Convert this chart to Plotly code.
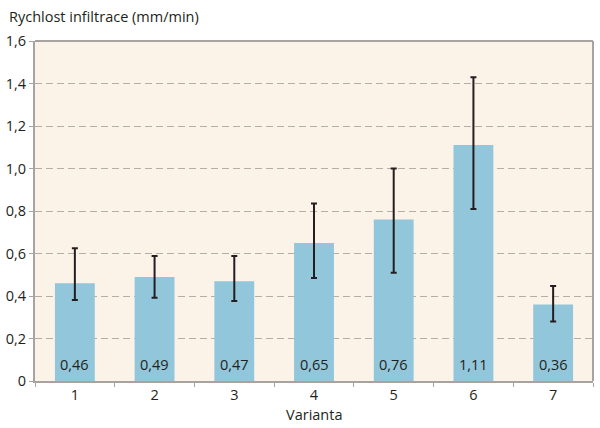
import plotly.graph_objects as go

categories = ["1", "2", "3", "4", "5", "6", "7"]
values = [0.46, 0.49, 0.47, 0.65, 0.76, 1.11, 0.36]
err_upper = [0.625, 0.588, 0.588, 0.835, 1.0, 1.43, 0.447]
err_lower = [0.381, 0.392, 0.377, 0.485, 0.51, 0.809, 0.28]
labels = ["0,46", "0,49", "0,47", "0,65", "0,76", "1,11", "0,36"]
ytick_vals = [0, 0.2, 0.4, 0.6, 0.8, 1.0, 1.2, 1.4, 1.6]
ytick_text = ["0", "0,2", "0,4", "0,6", "0,8", "1,0", "1,2", "1,4", "1,6"]

plus = [u - v for u, v in zip(err_upper, values)]
minus = [v - l for v, l in zip(values, err_lower)]

FONT = "Open Sans"
FS = 14.5
TXT = "#231F20"
AX = "#A8A2A0"

fig = go.Figure()
fig.add_trace(go.Bar(
    x=categories, y=values,
    marker=dict(color="#92C6DA", line=dict(width=0)),
    error_y=dict(type="data", symmetric=False, array=plus, arrayminus=minus,
                 color=TXT, thickness=2, width=3),
    hoverinfo="skip",
))

annotations = [
    dict(text=lab, x=i, y=0, xref="x", yref="y", xanchor="center",
         yanchor="bottom", yshift=5, showarrow=False,
         font=dict(family=FONT, size=FS, color=TXT))
    for i, lab in enumerate(labels)
]
annotations += [
    dict(text="Rychlost infiltrace (mm/min)", xref="paper", yref="paper",
         x=-28/558, y=1, xanchor="left", yanchor="bottom", yshift=13,
         showarrow=False, font=dict(family=FONT, size=FS, color=TXT)),
    dict(text="Varianta", xref="paper", yref="paper",
         x=0.5, y=0, xanchor="center", yanchor="top", yshift=-22,
         showarrow=False, font=dict(family=FONT, size=FS, color=TXT)),
]

fig.update_layout(
    width=600, height=428,
    margin=dict(l=35, r=7, t=41, b=47),
    paper_bgcolor="white",
    plot_bgcolor="#FCF3E8",
    bargap=0.5,
    showlegend=False,
    font=dict(family=FONT, size=FS, color=TXT),
    xaxis=dict(
        type="category", tickson="boundaries", ticks="outside", ticklen=4,
        tickcolor=AX, showline=True, linecolor=AX, linewidth=2,
        showgrid=False, automargin=False,
        tickfont=dict(family=FONT, size=FS, color=TXT),
    ),
    yaxis=dict(
        range=[0, 1.6], tickvals=ytick_vals, ticktext=ytick_text,
        ticks="outside", ticklen=4, tickcolor=AX,
        showline=True, linecolor=AX, linewidth=2,
        showgrid=True, gridcolor="#B5ADA6", griddash="7px,4px", gridwidth=1,
        zeroline=False, automargin=False,
        tickfont=dict(family=FONT, size=FS, color=TXT),
    ),
    annotations=annotations,
    shapes=[
        dict(type="line", xref="paper", yref="paper", x0=0, x1=1, y0=1, y1=1,
             line=dict(color=AX, width=2)),
        dict(type="line", xref="paper", yref="paper", x0=1, x1=1, y0=0, y1=1,
             line=dict(color=AX, width=2)),
    ],
)

fig.write_html("out.html", config={"displayModeBar": False},
               post_script="document.body.style.margin='0';")
